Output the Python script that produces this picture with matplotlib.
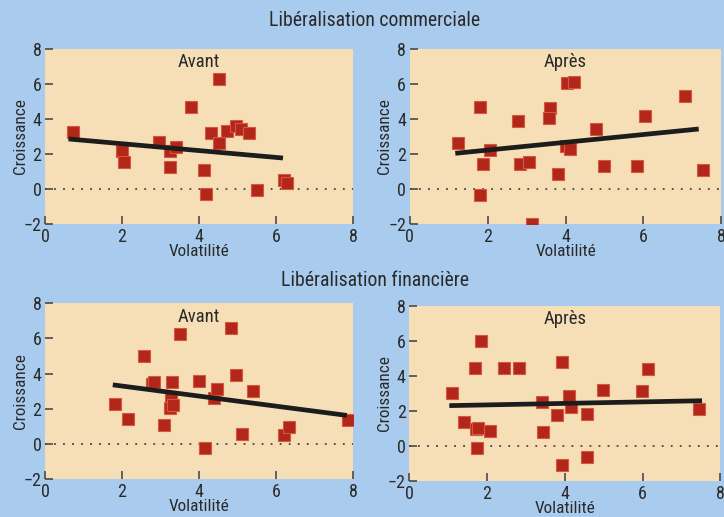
import matplotlib
matplotlib.use("Agg")
import matplotlib.pyplot as plt

plt.rcParams['font.family'] = ['Roboto Condensed', 'IBM Plex Sans Condensed', 'PT Sans Narrow', 'DejaVu Sans']

BG = '#A9CBEE'
FACE = '#F6DFB6'
RED = '#B3271A'
REDEDGE = '#D4583F'
TXT = '#2A2A2A'

# Libéralisation commerciale - Avant
com_av_x = [0.72, 1.99, 2.06, 2.97, 3.25, 3.40, 3.25, 3.79, 4.52, 4.30, 4.51, 4.12, 4.19, 4.72, 4.95, 5.09, 5.29, 5.51, 6.22, 6.28]
com_av_y = [3.24, 2.19, 1.52, 2.67, 2.19, 2.38, 1.26, 4.67, 6.27, 3.22, 2.61, 1.09, -0.29, 3.33, 3.62, 3.45, 3.20, -0.06, 0.51, 0.32]
com_av_fit_x = [0.61, 6.18]
com_av_fit_y = [2.86, 1.77]

# Libéralisation commerciale - Après
com_ap_x = [1.23, 1.80, 1.89, 1.80, 2.07, 2.77, 2.84, 3.05, 3.14, 3.61, 3.58, 3.80, 4.04, 4.23, 4.01, 4.12, 4.78, 4.98, 5.84, 6.04, 7.06, 7.53]
com_ap_y = [2.61, 4.70, 1.41, -0.32, 2.23, 3.89, 1.45, 1.52, -2.00, 4.61, 4.04, 0.88, 6.04, 6.13, 2.48, 2.30, 3.45, 1.33, 1.30, 4.19, 5.33, 1.09]
com_ap_fit_x = [1.17, 7.42]
com_ap_fit_y = [2.04, 3.43]

# Libéralisation financière - Avant
fin_av_x = [1.83, 2.15, 2.56, 2.77, 2.83, 3.08, 3.31, 3.27, 3.25, 3.33, 3.51, 4.00, 4.15, 4.38, 4.47, 4.84, 4.97, 5.11, 5.41, 6.20, 6.34, 7.88]
fin_av_y = [2.25, 1.40, 5.02, 3.43, 3.54, 1.09, 3.52, 2.54, 2.06, 2.21, 6.27, 3.60, -0.25, 2.63, 3.12, 6.61, 3.90, 0.56, 3.03, 0.50, 0.97, 1.37]
fin_av_fit_x = [1.76, 7.84]
fin_av_fit_y = [3.36, 1.62]

# Libéralisation financière - Après
fin_ap_x = [1.10, 1.42, 1.68, 1.72, 1.78, 1.74, 1.85, 2.08, 2.44, 2.83, 3.42, 3.44, 3.81, 3.93, 3.93, 4.12, 4.15, 4.56, 4.57, 4.97, 5.99, 6.13, 7.44]
fin_ap_y = [3.03, 1.37, 4.42, 0.95, 1.03, -0.13, 6.00, 0.86, 4.42, 4.42, 2.48, 0.78, 1.77, 4.76, -1.10, 2.84, 2.19, -0.63, 1.81, 3.16, 3.14, 4.36, 2.08]
fin_ap_fit_x = [1.03, 7.53]
fin_ap_fit_y = [2.29, 2.57]

panel_titles = ['Avant', 'Après']
section_titles = ['Libéralisation commerciale', 'Libéralisation financière']
xticks = [0, 2, 4, 6, 8]
yticks = [-2, 0, 2, 4, 6, 8]

fig = plt.figure(figsize=(7.24, 5.17), dpi=100, facecolor=BG)

rects = [
    [0.0622, 0.5667, 0.4254, 0.3385],
    [0.5659, 0.5667, 0.4304, 0.3385],
    [0.0622, 0.0735, 0.4254, 0.3398],
    [0.5653, 0.0702, 0.4296, 0.3385],
]
datasets = [
    (com_av_x, com_av_y, com_av_fit_x, com_av_fit_y, panel_titles[0]),
    (com_ap_x, com_ap_y, com_ap_fit_x, com_ap_fit_y, panel_titles[1]),
    (fin_av_x, fin_av_y, fin_av_fit_x, fin_av_fit_y, panel_titles[0]),
    (fin_ap_x, fin_ap_y, fin_ap_fit_x, fin_ap_fit_y, panel_titles[1]),
]

for rect, (xs, ys, fx, fy, title) in zip(rects, datasets):
    ax = fig.add_axes(rect)
    ax.set_facecolor(FACE)
    for s in ax.spines.values():
        s.set_visible(False)
    ax.set_xlim(0, 8)
    ax.set_ylim(-2, 8)
    ax.set_xticks(xticks)
    ax.set_yticks(yticks)
    ax.set_yticklabels(['\u22122' if t < 0 else str(t) for t in yticks])
    ax.tick_params(direction='in', length=5.5, width=1.2, color='#4a4a4a',
                   labelsize=13, labelcolor=TXT)
    ax.tick_params(axis='y', pad=2.5)
    ax.tick_params(axis='x', pad=3)
    ax.plot([0, 8], [0, 0], linestyle=(0, (1, 4)), color='#444444', linewidth=1.3, zorder=1)
    ax.plot(xs, ys, linestyle='none', marker='s', markersize=8.6,
            markerfacecolor=RED, markeredgecolor=REDEDGE, markeredgewidth=0.8, zorder=2)
    ax.plot(fx, fy, color='#1c1c1c', linewidth=3.4, solid_capstyle='butt', zorder=3)
    ax.set_xlabel('Volatilité', fontsize=12.4, color=TXT)
    ax.set_ylabel('Croissance', fontsize=12.4, color=TXT)
    ax.xaxis.set_label_coords(0.5, -0.115)
    ax.yaxis.set_label_coords(-0.056, 0.5)
    ax.text(0.5, 0.975, title, transform=ax.transAxes, ha='center', va='top',
            fontsize=13.5, color=TXT)

fig.text(0.518, 1 - 21 / 517, section_titles[0], ha='center', va='center', fontsize=14.2, color=TXT)
fig.text(0.518, 1 - 281 / 517, section_titles[1], ha='center', va='center', fontsize=14.2, color=TXT)

fig.savefig('out.png', dpi=100, facecolor=BG)
